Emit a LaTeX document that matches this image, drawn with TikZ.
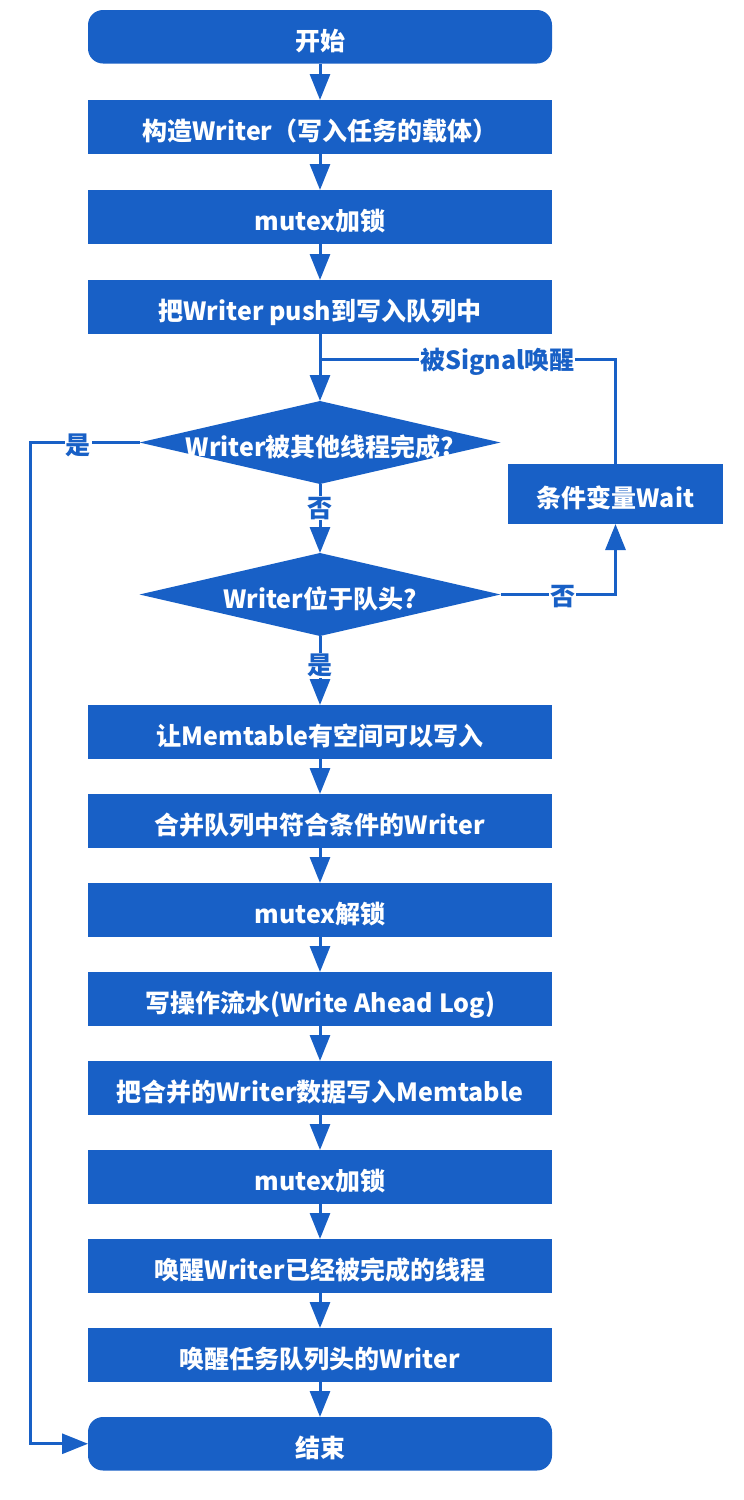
\documentclass[tikz,border=0pt]{standalone}
\usepackage{fontspec}
\setmainfont{Noto Sans CJK SC}
\usepackage{tikz}
\usetikzlibrary{positioning}
\usetikzlibrary{shapes.geometric}
\usetikzlibrary{arrows.meta}
\definecolor{flowblue}{RGB}{24,96,198}
\tikzset{
  box/.style = {rectangle, fill=flowblue, text=white, minimum width=464pt, minimum height=53.5pt, inner sep=0pt, outer sep=0pt, text height=27pt, text depth=0pt},
  term/.style = {box, rounded corners=15pt},
  cond/.style = {diamond, fill=flowblue, text=white, aspect=4.35, minimum width=361pt, minimum height=83pt, inner sep=-3pt, outer sep=0pt, text height=27pt, text depth=0pt},
  lbl/.style = {fill=white, text=flowblue, inner sep=1pt}
}

\begin{document}
\begin{tikzpicture}[font=\fontsize{25pt}{29pt}\selectfont\bfseries, flowblue, line width=3pt,
    >={Triangle[length=26pt,width=20pt]}, node distance=35.5pt]
  \useasboundingbox (0pt,0pt) rectangle (744pt,-1500pt);
  \node (start) [term] at (320pt,-36.75pt) {开始};
  \node (b1) [box, below=36.5pt of start] {构造Writer（写入任务的载体）} edge [<-] (start);
  \node (b2) [box, below=36.5pt of b1] {mutex加锁} edge [<-] (b1);
  \node (b3) [box, below=36.5pt of b2] {把Writer push到写入队列中} edge [<-] (b2);
  \node (q1) [cond, below=67.5pt of b3] {Writer被其他线程完成?} edge [<-] (b3);
  \node (q2) [cond, below=69pt of q1] {Writer位于队头?} edge [<-] node[lbl, pos=0.65] {否} (q1);
  \node (wait) [box, minimum width=215pt, minimum height=60pt, right=7.5pt of q1.east, yshift=-51.5pt] {条件变量Wait};
  \node (b4) [box, below=69pt of q2] {让Memtable有空间可以写入} edge [<-] node[lbl, pos=0.57] {是} (q2);
  \node (b5) [box, below=of b4] {合并队列中符合条件的Writer} edge [<-] (b4);
  \node (b6) [box, below=of b5] {mutex解锁} edge [<-] (b5);
  \node (b7) [box, below=of b6] {写操作流水(Write Ahead Log)} edge [<-] (b6);
  \node (b8) [box, below=of b7] {把合并的Writer数据写入Memtable} edge [<-] (b7);
  \node (b9) [box, below=of b8] {mutex加锁} edge [<-] (b8);
  \node (b10) [box, below=of b9] {唤醒Writer已经被完成的线程} edge [<-] (b9);
  \node (b11) [box, below=of b10] {唤醒任务队列头的Writer} edge [<-] (b10);
  \node (end) [term, below=of b11] {结束} edge [<-] (b11);

  \coordinate (sig) at ([yshift=-25.5pt]b3.south);
  \coordinate (lft) at ([xshift=-109pt]q1.west);
  \draw (wait.north) |- node[lbl, pos=0.7, yshift=-3pt] {被Signal唤醒} (sig);
  \draw[->] (q2.east) -| node[lbl, pos=0.27, yshift=-2pt] {否} (wait.south);
  \draw[->] (q1.west) -- node[lbl, pos=0.56, yshift=-3pt] {是} (lft) |- (end.west);
\end{tikzpicture}
\end{document}
